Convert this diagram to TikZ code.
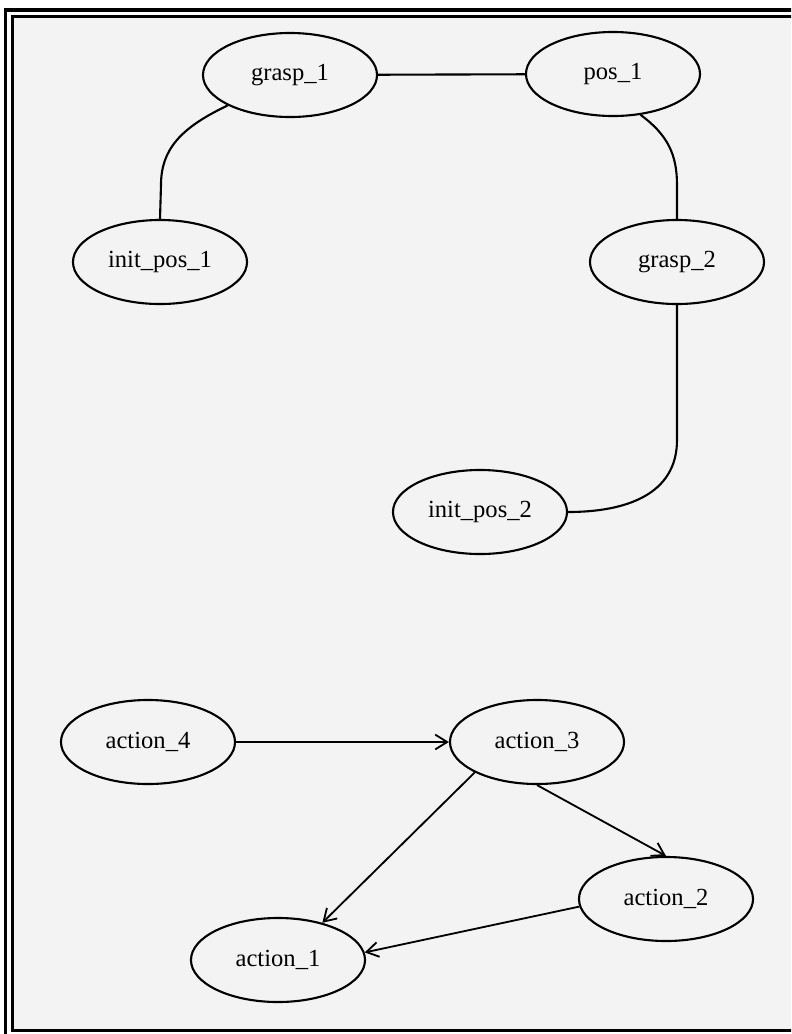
\documentclass[tikz,border=0pt]{standalone}
\usepackage{fontspec}
\setmainfont{Liberation Serif}
\usetikzlibrary{arrows.meta,shapes.geometric}
\definecolor{paper}{RGB}{243,243,243}

\begin{document}
\begin{tikzpicture}[x=0.025cm,y=-0.025cm,
	blob/.style={draw,ellipse,line width=1.5pt,inner sep=0pt,
		minimum width=4.35cm,minimum height=2.1cm,
		font=\fontsize{17.5}{20}\selectfont},
	link/.style={line width=1.5pt},
	arc/.style={line width=1.3pt,-{Straight Barb[length=8.5pt,width=10.5pt]}}]
	
	\useasboundingbox (0,0) rectangle (791,1034);
	\clip (0,0) rectangle (791,1034);
	
	% Frame
	\fill[white] (0,0) rectangle (791,1034);
	\fill[paper] (12.5,16.5) rectangle (820,1030.5);
	\draw[line width=2.2pt] (5.5,10) rectangle (820,1050);
	\draw[line width=1.5pt] (12.5,16.5) rectangle (820,1030.5);
	
	% Upper graph (no directions)
	\node[blob] (grasp1)   at (290,75)  {grasp\_1};
	\node[blob] (pos1)     at (613,74)  {pos\_1};
	\node[blob] (initpos1) at (160,262) {init\_pos\_1};
	\node[blob] (grasp2)   at (677,262) {grasp\_2};
	\node[blob] (initpos2) at (480,512) {init\_pos\_2};
	
	\draw[link] (grasp1) -- (pos1);
	\draw[link] (grasp1.south west) .. controls (180,128) and (161,150) .. (161,185) -- (initpos1.north);
	\draw[link] (pos1.-56) .. controls (668,135) and (677,155) .. (677,185) -- (grasp2.north);
	\draw[link] (grasp2.south) -- (677,440) .. controls (677,495) and (625,512) .. (initpos2.east);
	
	% Lower graph (directed)
	\node[blob] (action4) at (148,742) {action\_4};
	\node[blob] (action3) at (537,742) {action\_3};
	\node[blob] (action2) at (666,899) {action\_2};
	\node[blob] (action1) at (278,960) {action\_1};
	
	\draw[arc] (action4.east) -- (action3.west);
	\draw[arc] (action3.south west) -- (action1.40);
	\draw[arc] (action3.south) -- (action2.north);
	\draw[arc] (action2.185) -- (action1.5);
	
\end{tikzpicture}
\end{document}
